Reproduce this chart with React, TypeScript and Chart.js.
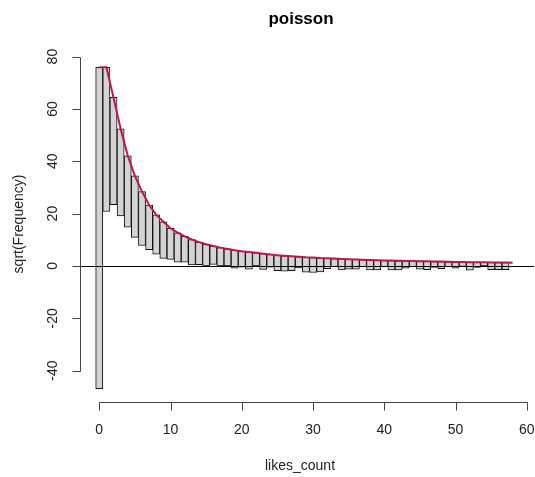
import React, { useEffect, useRef } from "react";
import { Chart, registerables } from "chart.js";

Chart.register(...registerables);

const chartTitle = "poisson";
const xAxisTitle = "likes_count";
const yAxisTitle = "sqrt(Frequency)";

const likesCount = [
  0, 1, 2, 3, 4, 5, 6, 7, 8, 9, 10, 11, 12, 13, 14, 15, 16, 17, 18, 19,
  20, 21, 22, 23, 24, 25, 26, 27, 28, 29, 30, 31, 32, 33, 34, 35, 36, 37, 38, 39,
  40, 41, 42, 43, 44, 45, 46, 47, 48, 49, 50, 51, 52, 53, 54, 55, 56, 57, 58,
];

// sqrt of expected frequencies (top of each hanging bar, red curve)
const sqrtExpected = [
  75.9, 75.9, 64.4, 52.4, 42.1, 34.4, 28.4, 23.3, 19.5, 16.9,
  14.4, 12.7, 11.3, 10.1, 9.1, 8.3, 7.6, 7.0, 6.5, 6.0,
  5.6, 5.3, 5.0, 4.7, 4.4, 4.1, 3.9, 3.7, 3.5, 3.3,
  3.2, 3.0, 2.9, 2.8, 2.7, 2.6, 2.5, 2.4, 2.3, 2.2,
  2.1, 2.05, 2.0, 1.9, 1.85, 1.8, 1.75, 1.7, 1.65, 1.6,
  1.55, 1.5, 1.45, 1.4, 1.4, 1.35, 1.3, 1.3, 1.25,
];

// sqrt of observed frequencies (length of each hanging bar)
const sqrtObserved = [
  122.8, 55.1, 41.0, 33.3, 27.3, 23.5, 20.6, 17.1, 15.0, 14.0,
  11.9, 11.3, 9.9, 9.7, 8.6, 8.3, 7.0, 7.0, 6.5, 6.9,
  6.1, 6.5, 5.0, 6.0, 4.9, 5.9, 5.9, 5.5, 4.3, 5.7,
  5.7, 5.3, 3.9, 3.1, 4.2, 3.8, 3.7, 2.8, 3.8, 3.7,
  2.4, 3.55, 3.5, 2.8, 2.15, 3.0, 3.15, 2.3, 2.65, 1.9,
  2.45, 1.7, 3.05, 2.0, 1.4, 2.75, 2.7, 2.7, 0,
];

const xTicks = [0, 10, 20, 30, 40, 50, 60];
const yTicks = [-40, -20, 0, 20, 40, 60, 80];

const FONT = '"Liberation Sans", Arial, Helvetica, sans-serif';

const rStylePlugin = {
  id: "rStyle",
  afterDatasetsDraw(chart: any) {
    const { ctx, chartArea, scales } = chart;
    const y0 = Math.round(scales.y.getPixelForValue(0)) + 0.5;
    ctx.save();
    ctx.strokeStyle = "#000";
    ctx.lineWidth = 1;
    ctx.beginPath();
    ctx.moveTo(chartArea.left, y0);
    ctx.lineTo(chartArea.right, y0);
    ctx.stroke();
    ctx.restore();
  },
  afterDraw(chart: any) {
    const { ctx, chartArea, scales } = chart;
    const xs = scales.x;
    const ys = scales.y;
    ctx.save();
    ctx.strokeStyle = "#444";
    ctx.fillStyle = "#222";
    ctx.lineWidth = 1;

    // x axis
    const axY = Math.round(chartArea.bottom) + 0.5;
    const xa = Math.round(xs.getPixelForValue(xTicks[0])) + 0.5;
    const xb = Math.round(xs.getPixelForValue(xTicks[xTicks.length - 1])) + 0.5;
    ctx.beginPath();
    ctx.moveTo(xa, axY);
    ctx.lineTo(xb, axY);
    xTicks.forEach((t) => {
      const px = Math.round(xs.getPixelForValue(t)) + 0.5;
      ctx.moveTo(px, axY);
      ctx.lineTo(px, axY + 8);
    });
    ctx.stroke();
    ctx.font = `14px ${FONT}`;
    ctx.textAlign = "center";
    ctx.textBaseline = "middle";
    xTicks.forEach((t) => {
      ctx.fillText(String(t), xs.getPixelForValue(t), axY + 28);
    });

    // y axis
    const axX = Math.round(chartArea.left) + 0.5;
    const ya = Math.round(ys.getPixelForValue(yTicks[0])) + 0.5;
    const yb = Math.round(ys.getPixelForValue(yTicks[yTicks.length - 1])) + 0.5;
    ctx.beginPath();
    ctx.moveTo(axX, ya);
    ctx.lineTo(axX, yb);
    yTicks.forEach((t) => {
      const py = Math.round(ys.getPixelForValue(t)) + 0.5;
      ctx.moveTo(axX, py);
      ctx.lineTo(axX - 8, py);
    });
    ctx.stroke();
    yTicks.forEach((t) => {
      const py = ys.getPixelForValue(t);
      ctx.save();
      ctx.translate(axX - 27, py);
      ctx.rotate(-Math.PI / 2);
      ctx.fillText(String(t), 0, 0);
      ctx.restore();
    });

    // titles
    ctx.fillStyle = "#000";
    ctx.font = `bold 17px ${FONT}`;
    ctx.fillText(chartTitle, 301, 19);
    ctx.fillStyle = "#222";
    ctx.font = `14px ${FONT}`;
    ctx.fillText(xAxisTitle, 300, 466);
    ctx.save();
    ctx.translate(19, 224);
    ctx.rotate(-Math.PI / 2);
    ctx.fillText(yAxisTitle, 0, 0);
    ctx.restore();
    ctx.restore();
  },
};

export default function App() {
  const canvasRef = useRef<HTMLCanvasElement | null>(null);

  useEffect(() => {
    document.body.style.margin = "0";
    const canvas = canvasRef.current;
    if (!canvas) return;
    const barData = likesCount.map((x, i) => ({
      x,
      y: [sqrtExpected[i] - sqrtObserved[i], sqrtExpected[i]],
    }));
    const lineData = likesCount.map((x, i) => ({ x, y: sqrtExpected[i] }));
    const chart = new Chart(canvas, {
      type: "bar",
      data: {
        datasets: [
          {
            type: "line",
            data: lineData,
            borderColor: "#B61A51",
            borderWidth: 2,
            pointRadius: 0,
            tension: 0,
            fill: false,
            order: 0,
          } as any,
          {
            type: "bar",
            data: barData as any,
            backgroundColor: "#D3D3D3",
            borderColor: "#111",
            borderWidth: 1,
            borderSkipped: false,
            barPercentage: 1,
            categoryPercentage: 1,
            order: 1,
          } as any,
        ],
      },
      plugins: [rStylePlugin],
      options: {
        animation: false,
        responsive: false,
        devicePixelRatio: 1,
        layout: { padding: { left: 80, right: 1, top: 54, bottom: 75 } },
        plugins: {
          legend: { display: false },
          tooltip: { enabled: false },
          title: { display: false },
        },
        scales: {
          x: { type: "linear", min: -2.7, max: 61, offset: false, display: false },
          y: { type: "linear", min: -52, max: 81, display: false },
        },
      },
    });
    return () => chart.destroy();
  }, []);

  return (
    <div style={{ position: "absolute", left: 0, top: 0, width: 535, height: 477, background: "#fff" }}>
      <canvas ref={canvasRef} width={535} height={477} style={{ width: 535, height: 477 }} />
    </div>
  );
}
